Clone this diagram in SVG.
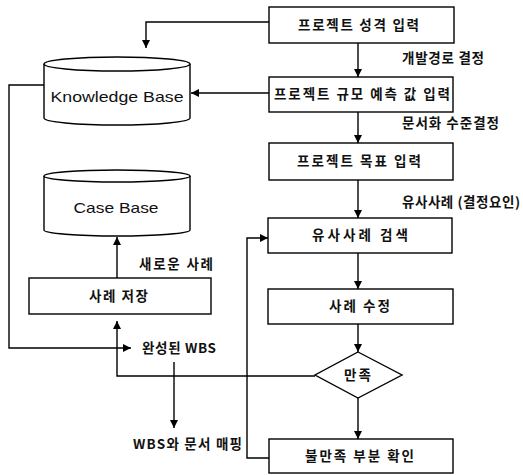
<svg xmlns="http://www.w3.org/2000/svg" width="523" height="475" viewBox="0 0 523 475">
<style>
.box{fill:#fff;stroke:#000;stroke-width:1.4}
.ln{fill:none;stroke:#000;stroke-width:1.4}
.kt{font-family:"Noto Sans CJK KR","Noto Sans",sans-serif;font-size:13.5px;font-weight:bold;fill:#111}
.et{font-family:"Liberation Sans","DejaVu Sans",sans-serif;font-size:15px;fill:#111}
</style>
<defs>
<marker id="ah" viewBox="0 0 10 10" refX="10" refY="5" markerWidth="8" markerHeight="8" markerUnits="userSpaceOnUse" orient="auto">
<path d="M0,0 L10,5 L0,10 Z" fill="#000"/>
</marker>
</defs>
<g id="connectors">
<path class="ln" d="M269,22 H146 V48" marker-end="url(#ah)"/>
<path class="ln" d="M358,43 V77" marker-end="url(#ah)"/>
<path class="ln" d="M269,93 H191" marker-end="url(#ah)"/>
<path class="ln" d="M358,112 V143" marker-end="url(#ah)"/>
<path class="ln" d="M358,180 V218" marker-end="url(#ah)"/>
<path class="ln" d="M358,253 V289" marker-end="url(#ah)"/>
<path class="ln" d="M358,324 V352" marker-end="url(#ah)"/>
<path class="ln" d="M358,398 V439" marker-end="url(#ah)"/>
<path class="ln" d="M315,376 H117 V321" marker-end="url(#ah)"/>
<path class="ln" d="M44,85 H9 V348 H131" marker-end="url(#ah)"/>
<path class="ln" d="M174,362 V428" marker-end="url(#ah)"/>
<path class="ln" d="M269,458 H247 V238 H268" marker-end="url(#ah)"/>
<path class="ln" d="M117,278 V237" marker-end="url(#ah)"/>
</g>
<g id="kb">
<path class="box" d="M44,64 A73,7 0 0 1 190,64 V118 A73,7 0 0 1 44,118 Z"/>
<path class="ln" d="M44,64 A73,7 0 0 0 190,64"/>
<text class="et" x="117" y="102" text-anchor="middle" textLength="133" lengthAdjust="spacingAndGlyphs">Knowledge Base</text>
</g>
<g id="cb">
<path class="box" d="M44,176 A73,6 0 0 1 190,176 V230 A73,6 0 0 1 44,230 Z"/>
<path class="ln" d="M44,176 A73,6 0 0 0 190,176"/>
<text class="et" x="116" y="213" text-anchor="middle" textLength="85" lengthAdjust="spacingAndGlyphs">Case Base</text>
</g>
<g id="n1">
<rect class="box" x="269" y="7" width="185" height="36"/>
<text class="kt" x="298" y="30" textLength="121" lengthAdjust="spacing">프로젝트 성격 입력</text>
</g>
<g id="n2">
<rect class="box" x="269" y="77" width="184" height="35"/>
<text class="kt" x="274" y="99" textLength="176" lengthAdjust="spacing">프로젝트 규모 예측 값 입력</text>
</g>
<g id="n3">
<rect class="box" x="269" y="143" width="184" height="37"/>
<text class="kt" x="297" y="166" textLength="124" lengthAdjust="spacing">프로젝트 목표 입력</text>
</g>
<g id="n4">
<rect class="box" x="268" y="218" width="184" height="35"/>
<text class="kt" x="312" y="240" textLength="96" lengthAdjust="spacing">유사사례 검색</text>
</g>
<g id="n5">
<rect class="box" x="268" y="289" width="185" height="35"/>
<text class="kt" x="329" y="311" textLength="61" lengthAdjust="spacing">사례 수정</text>
</g>
<g id="n6">
<polygon class="box" points="358,352 402,375 358,398 315,375"/>
<text class="kt" x="344" y="380" textLength="27" lengthAdjust="spacing">만족</text>
</g>
<g id="n7">
<rect class="box" x="269" y="439" width="184" height="34"/>
<text class="kt" x="305" y="461" textLength="109" lengthAdjust="spacing">불만족 부분 확인</text>
</g>
<g id="n8">
<rect class="box" x="29" y="278" width="182" height="36"/>
<text class="kt" x="89" y="301" textLength="59" lengthAdjust="spacing">사례 저장</text>
</g>
<g id="labels">
<text class="kt" x="402" y="63" textLength="82" lengthAdjust="spacing">개발경로 결정</text>
<text class="kt" x="402" y="128" textLength="97" lengthAdjust="spacing">문서화 수준결정</text>
<text class="kt" x="402" y="207" textLength="118" lengthAdjust="spacing">유사사례 (결정요인)</text>
<text class="kt" x="139" y="269" textLength="74" lengthAdjust="spacing">새로운 사례</text>
<text class="kt" x="142" y="353" textLength="74" lengthAdjust="spacing">완성된 WBS</text>
<text class="kt" x="133" y="449" textLength="109" lengthAdjust="spacing">WBS와 문서 매핑</text>
</g>
</svg>
